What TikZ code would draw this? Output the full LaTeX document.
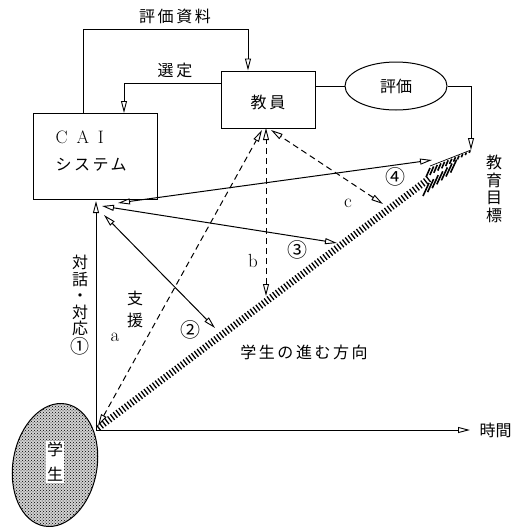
\documentclass[tikz,border=0pt]{standalone}
\usepackage{fontspec}
\newfontfamily\jp{Noto Sans CJK JP}
\usetikzlibrary{arrows.meta,shapes.geometric,patterns,calc}
\begin{document}
\begin{tikzpicture}[x=1pt,y=-1pt,line width=1pt,
  hd/.style={-{Triangle[open,length=12pt,width=6pt,line width=0.9pt]}},
  hds/.style={{Triangle[open,length=12pt,width=6pt,line width=0.9pt]}-{Triangle[open,length=12pt,width=6pt,line width=0.9pt]}},
  dsh/.style={dash pattern=on 6pt off 4pt},
  jt/.style={font=\jp\fontsize{16}{17}\selectfont, inner sep=0pt, align=center},
  jsp/.style={font=\jp\fontsize{16}{17}\selectfont\addfontfeature{LetterSpace=16}, inner sep=0pt},
  lt/.style={font=\fontsize{19}{19}\selectfont, inner sep=0pt},
  cn/.style={font=\jp\fontsize{20}{20}\selectfont, inner sep=0pt},
  band/.style={line width=7pt, dash pattern=on 1.3pt off 2.2pt},
  feather/.style={line width=1.6pt}]
\useasboundingbox (0,0) rectangle (518,528);

% boxes
\node[draw, minimum width=124pt, minimum height=86pt, inner sep=0pt] (cai) at (95,156.5) {};
\node[anchor=west, inner sep=0pt, font=\fontsize{18}{18}\selectfont] (caitxt) at (55,137) {C\hspace{9pt}A\hspace{9pt}I};
\node[jsp, anchor=west] (sys) at (55,165) {システム};
\node[draw, minimum width=94pt, minimum height=57pt, inner sep=0pt] (kyoin) at (268,99.5) {};
\node[jsp] (kyointxt) at (268,102) {教員};
\node[draw, ellipse, minimum width=102pt, minimum height=48pt, inner sep=0pt] (hyoka) at (396,86) {};
\node[jt] (hyokatxt) at (396,86) {評価};

% student
\node[draw, ellipse, minimum width=84pt, minimum height=124pt, inner sep=0pt, rotate=-10,
  preaction={fill=gray!35}, pattern=crosshatch dots] (gakusei) at (55,465) {};
\node[jt, fill=white, inner sep=1pt, font=\jp\fontsize{16}{25}\selectfont] (gtxt) at (55,462) {学\\生};

% coordinates
\coordinate (O) at (96,430);
\coordinate (Ob) at (98,428);
\coordinate (Be) at (430,178);
\coordinate (goal) at (471,150);
\coordinate (timeend) at (470,430);
\coordinate (v1) at (96,201);
\coordinate (l34) at (102,206);
\coordinate (l4) at (118,203);
\coordinate (e4) at (432,160);
\coordinate (e3) at (337,243);
\coordinate (s2) at (104,215);
\coordinate (e2) at (215,328);
\coordinate (sa) at (98,426);
\coordinate (ea) at (262,130);
\coordinate (sb) at (266,296);
\coordinate (eb) at (266,128);
\coordinate (sc) at (383,204);
\coordinate (ec) at (271,130);

% band (students' direction)
\draw[band] (Ob) -- (Be);
\foreach \i in {0,...,11} {
  \pgfmathsetmacro\tt{\i/11}
  \pgfmathsetmacro\xx{430+\tt*40}
  \pgfmathsetmacro\yy{168-\tt*17}
  \pgfmathsetmacro\ll{8*(1-\tt)+2}
  \draw[feather] (\xx,\yy) -- ++({-0.4*\ll},{0.92*\ll});
}
\draw[line width=0.7pt] (430,166) -- (goal);
\foreach \i in {0,...,6} {
  \pgfmathsetmacro\xx{423+\i*4.6}
  \pgfmathsetmacro\yy{196-\i*3.9}
  \draw[feather] (\xx,\yy) -- ++(6,-13);
}

% top loops
\draw[hd] (cai.north -| 83,0) |- (248,29) -- (kyoin.north -| 248,0);
\draw[hd] (kyoin.west |- 0,83) -| (cai.north -| 124,0);
\draw (kyoin.east |- 0,86) -- (hyoka.west);
\draw[hd] (hyoka.east) -| (goal);

% axes
\draw[hd] (O) -- (v1);
\draw[hd] (O) -- (timeend);

% solid arrows
\draw[hds] (l4) -- (e4);
\draw[hds] (l34) -- (e3);
\draw[hds] (s2) -- (e2);

% dashed arrows
\draw[hds, dsh] (sa) -- (ea);
\draw[hds, dsh] (sb) -- (eb);
\draw[hds, dsh] (sc) -- (ec);

% labels
\node[jsp] (l1) at (175,16) {評価資料};
\node[jsp] (l2) at (175,70) {選定};
\node[jt, font=\jp\fontsize{16}{17.5}\selectfont] (l3) at (494,189) {教\\育\\目\\標};
\node[jt, font=\jp\fontsize{16}{16.5}\selectfont] (l4t) at (80,305) {対\\話\\・\\対\\応\\{\fontsize{19}{16.5}\selectfont ①}};
\node[jt, font=\jp\fontsize{16}{22}\selectfont] (l5) at (135,309) {支\\援};
\node[lt] (la) at (115,337) {a};
\node[lt] (lb) at (253,261) {b};
\node[lt] (lc) at (348,203) {c};
\node[cn] (n2) at (190,330) {②};
\node[cn] (n3) at (297,250) {③};
\node[cn] (n4) at (395,177) {④};
\node[jsp] (dir) at (304,352) {学生の進む方向};
\node[jt, anchor=west] (jikan) at (479,430) {時間};
\end{tikzpicture}
\end{document}
